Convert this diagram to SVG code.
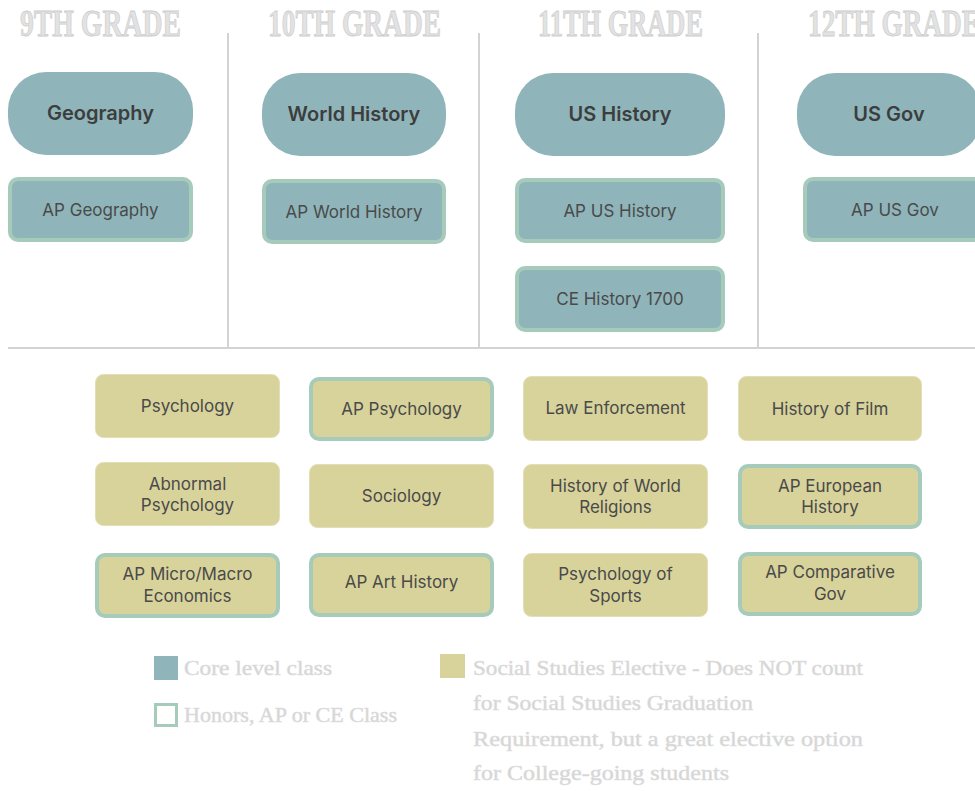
<svg xmlns="http://www.w3.org/2000/svg" width="975" height="791" viewBox="0 0 975 791">
<style>
.hdr{font-family:"Liberation Serif",serif;font-weight:bold;font-size:38px;fill:#e2e2e2;stroke:#cdcdcd;stroke-width:0.8}
.sep{stroke:#d3d3d3;stroke-width:2;fill:none}
.core{fill:#8fb5bb}
.corebd{fill:#8fb5bb;stroke:#a6cbbb;stroke-width:4}
.elec{fill:#d8d39b;stroke:#e2dfb8;stroke-width:1}
.elecbd{fill:#d8d39b;stroke:#a6cbbb;stroke-width:4}
.tb{font-family:Inter,"Noto Sans",sans-serif;font-weight:600;font-size:20px;fill:#3d3d3d;text-anchor:middle}
.t{font-family:Inter,"Noto Sans",sans-serif;font-size:17px;fill:#4a4a4a;text-anchor:middle}
.lg{font-family:"Liberation Serif",serif;font-size:21px;fill:#d6d6d6;stroke:#dcdcdc;stroke-width:0.5}
</style>
<rect width="975" height="791" fill="#ffffff"/>
<g id="headers">
<text class="hdr" x="20" y="36" textLength="161" lengthAdjust="spacingAndGlyphs">9TH GRADE</text>
<text class="hdr" x="268" y="36" textLength="173" lengthAdjust="spacingAndGlyphs">10TH GRADE</text>
<text class="hdr" x="538" y="36" textLength="165" lengthAdjust="spacingAndGlyphs">11TH GRADE</text>
<text class="hdr" x="808" y="36" textLength="172" lengthAdjust="spacingAndGlyphs">12TH GRADE</text>
</g>
<g id="connectors">
<line class="sep" x1="228" y1="33" x2="228" y2="348"/>
<line class="sep" x1="479" y1="33" x2="479" y2="348"/>
<line class="sep" x1="758" y1="33" x2="758" y2="348"/>
<line class="sep" x1="8" y1="348" x2="975" y2="348"/>
</g>
<g id="geography"><rect class="core" x="8" y="72" width="185" height="83" rx="38"/><text class="tb" x="100.5" y="120">Geography</text></g>
<g id="world-history"><rect class="core" x="262" y="73" width="184" height="83" rx="38"/><text class="tb" x="354" y="121">World History</text></g>
<g id="us-history"><rect class="core" x="515" y="73" width="210" height="83" rx="38"/><text class="tb" x="620" y="121">US History</text></g>
<g id="us-gov"><rect class="core" x="797" y="73" width="184" height="83" rx="38"/><text class="tb" x="889" y="121">US Gov</text></g>
<g id="ap-geography"><rect class="corebd" x="10" y="179" width="181" height="61" rx="8"/><text class="t" x="100.5" y="216">AP Geography</text></g>
<g id="ap-world-history"><rect class="corebd" x="264" y="181" width="180" height="61" rx="8"/><text class="t" x="354" y="218">AP World History</text></g>
<g id="ap-us-history"><rect class="corebd" x="517" y="180" width="206" height="61" rx="8"/><text class="t" x="620" y="217">AP US History</text></g>
<g id="ce-history-1700"><rect class="corebd" x="517" y="268" width="206" height="62" rx="8"/><text class="t" x="620" y="305">CE History 1700</text></g>
<g id="ap-us-gov"><rect class="corebd" x="805" y="179" width="180" height="61" rx="8"/><text class="t" x="895" y="216">AP US Gov</text></g>
<g id="psychology"><rect class="elec" x="95.5" y="374.5" width="184" height="63" rx="8"/><text class="t" x="187.5" y="412">Psychology</text></g>
<g id="ap-psychology"><rect class="elecbd" x="311" y="379" width="181" height="60" rx="8"/><text class="t" x="401.5" y="415">AP Psychology</text></g>
<g id="law-enforcement"><rect class="elec" x="523.5" y="376.5" width="184" height="64" rx="8"/><text class="t" x="615.5" y="414">Law Enforcement</text></g>
<g id="history-of-film"><rect class="elec" x="738.5" y="376.5" width="183" height="64" rx="8"/><text class="t" x="830" y="415">History of Film</text></g>
<g id="abnormal-psychology"><rect class="elec" x="95.5" y="462.5" width="184" height="63" rx="8"/><text class="t" x="187.5" y="490">Abnormal</text><text class="t" x="187.5" y="511">Psychology</text></g>
<g id="sociology"><rect class="elec" x="309.5" y="464.5" width="184" height="63" rx="8"/><text class="t" x="401.5" y="502">Sociology</text></g>
<g id="history-of-world-religions"><rect class="elec" x="523.5" y="464.5" width="184" height="64" rx="8"/><text class="t" x="615.5" y="492">History of World</text><text class="t" x="615.5" y="513">Religions</text></g>
<g id="ap-european-history"><rect class="elecbd" x="740" y="466" width="180" height="61" rx="8"/><text class="t" x="830" y="492">AP European</text><text class="t" x="830" y="513">History</text></g>
<g id="ap-micro-macro-economics"><rect class="elecbd" x="97" y="555" width="181" height="61" rx="8"/><text class="t" x="187.5" y="580">AP Micro/Macro</text><text class="t" x="187.5" y="602">Economics</text></g>
<g id="ap-art-history"><rect class="elecbd" x="311" y="555" width="181" height="60" rx="8"/><text class="t" x="401.5" y="588">AP Art History</text></g>
<g id="psychology-of-sports"><rect class="elec" x="523.5" y="553.5" width="184" height="63" rx="8"/><text class="t" x="615.5" y="580">Psychology of</text><text class="t" x="615.5" y="602">Sports</text></g>
<g id="ap-comparative-gov"><rect class="elecbd" x="740" y="554" width="180" height="60" rx="8"/><text class="t" x="830" y="578">AP Comparative</text><text class="t" x="830" y="600">Gov</text></g>
<g id="legend">
<rect x="154" y="656" width="24" height="24" fill="#8fb5bb"/>
<text class="lg" x="184" y="675" textLength="148" lengthAdjust="spacingAndGlyphs">Core level class</text>
<rect x="155.5" y="704.5" width="21" height="21" fill="#ffffff" stroke="#a6cbbb" stroke-width="3"/>
<text class="lg" x="184" y="722" textLength="213" lengthAdjust="spacingAndGlyphs">Honors, AP or CE Class</text>
<rect x="440" y="654" width="25" height="24" fill="#d8d39b"/>
<text class="lg" x="473" y="675" textLength="390" lengthAdjust="spacingAndGlyphs">Social Studies Elective  - Does NOT count</text>
<text class="lg" x="473" y="710" textLength="280" lengthAdjust="spacingAndGlyphs">for Social Studies Graduation</text>
<text class="lg" x="473" y="746" textLength="390" lengthAdjust="spacingAndGlyphs">Requirement, but a great elective option</text>
<text class="lg" x="473" y="780" textLength="256" lengthAdjust="spacingAndGlyphs">for College-going students</text>
</g>
</svg>
